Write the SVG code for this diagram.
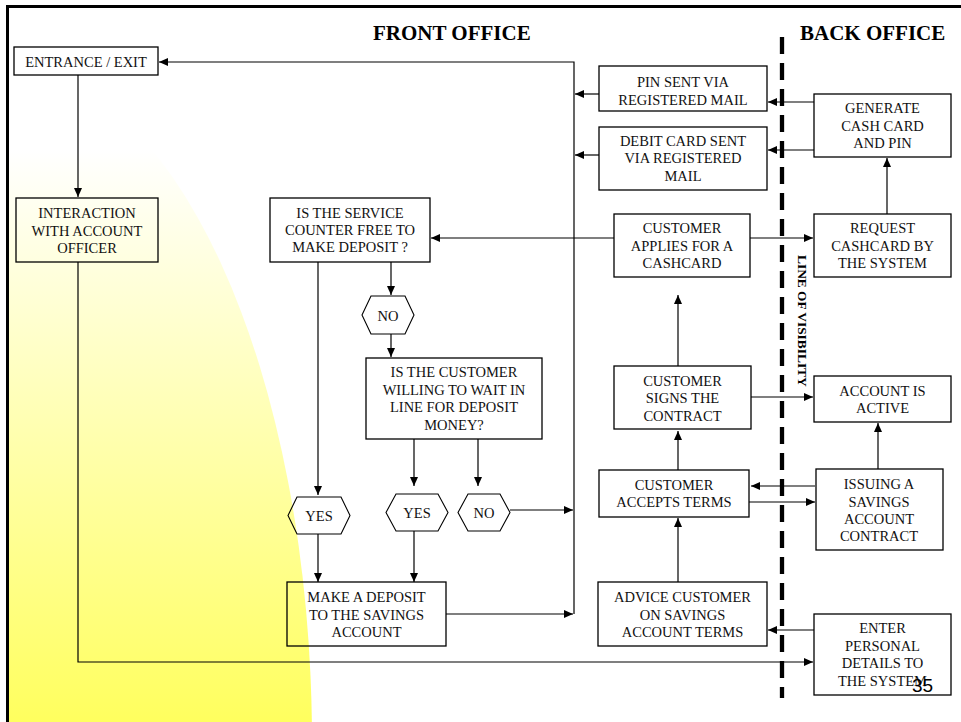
<svg xmlns="http://www.w3.org/2000/svg" width="961" height="722" viewBox="0 0 961 722">
<defs>
<linearGradient id="yg" gradientUnits="userSpaceOnUse" x1="0" y1="150" x2="0" y2="722">
<stop offset="0" stop-color="#FFFFFF"/>
<stop offset="1" stop-color="#FFFF5E"/>
</linearGradient>
<clipPath id="cl"><rect x="8" y="8" width="953" height="714"/></clipPath>
<marker id="ah" markerUnits="userSpaceOnUse" markerWidth="10" markerHeight="10" viewBox="0 0 10 10" refX="9" refY="5" orient="auto">
<path d="M0,1 L9,5 L0,9 Z" fill="#000"/>
</marker>
<style>
.box{fill:none;stroke:#000;stroke-width:1.3}
.hex{fill:none;stroke:#000;stroke-width:1.1}
.t{font-family:"Liberation Serif","Times New Roman",serif;font-size:14.5px;fill:#111;text-anchor:middle}
.h{font-family:"Liberation Serif","Times New Roman",serif;font-size:21px;font-weight:bold;fill:#000}
.c{fill:none;stroke:#000;stroke-width:1.2;marker-end:url(#ah)}
</style>
</defs>
<rect x="0" y="0" width="961" height="722" fill="#fff"/>
<ellipse cx="0" cy="742" rx="312" ry="678" fill="url(#yg)" clip-path="url(#cl)"/>
<path d="M7.5,722 V6.5 H961" fill="none" stroke="#000" stroke-width="3"/>

<text class="h" x="373" y="40">FRONT OFFICE</text>
<text class="h" x="800" y="40">BACK OFFICE</text>

<g id="visibility-line">
<line x1="782" y1="37" x2="782" y2="698" stroke="#000" stroke-width="4.3" stroke-dasharray="17,9"/>
<text transform="translate(798,255) rotate(90)" font-family="Liberation Serif,serif" font-size="13.4" font-weight="bold" fill="#000">LINE OF VISIBILITY</text>
</g>

<g id="connectors">
<path class="c" d="M574,614 V62 H159"/>
<path class="c" d="M599,94 H575"/>
<path class="c" d="M599,155 H575"/>
<path class="c" d="M814,102 H768"/>
<path class="c" d="M814,150 H768"/>
<path class="c" d="M887,214 V158"/>
<path class="c" d="M750,238 H813"/>
<path class="c" d="M614,238 H431"/>
<path class="c" d="M78,75 V197"/>
<path class="c" d="M78,262 V662 H813"/>
<path class="c" d="M318,262 V495"/>
<path class="c" d="M391,262 V295"/>
<path class="c" d="M391,334 V357"/>
<path class="c" d="M414,439 V486"/>
<path class="c" d="M478,439 V486"/>
<path class="c" d="M510,510 H573"/>
<path class="c" d="M318,534 V582"/>
<path class="c" d="M414,531 V582"/>
<path class="c" d="M446,614 H573"/>
<path class="c" d="M678,366 V295"/>
<path class="c" d="M751,397 H813"/>
<path class="c" d="M678,470 V431"/>
<path class="c" d="M815,486 H751"/>
<path class="c" d="M749,502 H815"/>
<path class="c" d="M878,469 V423"/>
<path class="c" d="M678,582 V518"/>
<path class="c" d="M814,630 H768"/>
</g>

<g id="entrance-exit">
<rect class="box" x="14" y="47" width="144" height="28"/>
<text class="t" x="86" y="66.5">ENTRANCE / EXIT</text>
</g>
<g id="interaction">
<rect class="box" x="16" y="198" width="142" height="64"/>
<text class="t" x="87" y="218">INTERACTION</text>
<text class="t" x="87" y="235.5">WITH ACCOUNT</text>
<text class="t" x="87" y="253">OFFICER</text>
</g>
<g id="service-counter">
<rect class="box" x="270" y="198" width="160" height="64"/>
<text class="t" x="350" y="217.7">IS THE SERVICE</text>
<text class="t" x="350" y="235">COUNTER FREE TO</text>
<text class="t" x="350" y="252.3">MAKE DEPOSIT ?</text>
</g>
<g id="pin-sent">
<rect class="box" x="599" y="66" width="168" height="45"/>
<text class="t" x="683" y="87">PIN SENT VIA</text>
<text class="t" x="683" y="104.5">REGISTERED MAIL</text>
</g>
<g id="debit-card-sent">
<rect class="box" x="599" y="127" width="168" height="63"/>
<text class="t" x="683" y="146">DEBIT CARD SENT</text>
<text class="t" x="683" y="163.3">VIA REGISTERED</text>
<text class="t" x="683" y="180.5">MAIL</text>
</g>
<g id="generate-card">
<rect class="box" x="814" y="94" width="137" height="63"/>
<text class="t" x="882.5" y="113.3">GENERATE</text>
<text class="t" x="882.5" y="130.5">CASH CARD</text>
<text class="t" x="882.5" y="147.7">AND PIN</text>
</g>
<g id="applies-cashcard">
<rect class="box" x="614" y="214" width="136" height="63"/>
<text class="t" x="682" y="233.3">CUSTOMER</text>
<text class="t" x="682" y="250.7">APPLIES FOR A</text>
<text class="t" x="682" y="268.3">CASHCARD</text>
</g>
<g id="request-cashcard">
<rect class="box" x="814" y="214" width="137" height="63"/>
<text class="t" x="882.5" y="233.3">REQUEST</text>
<text class="t" x="882.5" y="250.7">CASHCARD BY</text>
<text class="t" x="882.5" y="268.3">THE SYSTEM</text>
</g>
<g id="no-1">
<polygon class="hex" points="362,315 371,296 405,296 414,315 405,334 371,334"/>
<text class="t" x="388" y="320.5">NO</text>
</g>
<g id="willing-to-wait">
<rect class="box" x="366" y="358" width="176" height="81"/>
<text class="t" x="454" y="377.3">IS THE CUSTOMER</text>
<text class="t" x="454" y="395">WILLING TO WAIT IN</text>
<text class="t" x="454" y="412.3">LINE FOR DEPOSIT</text>
<text class="t" x="454" y="430">MONEY?</text>
</g>
<g id="signs-contract">
<rect class="box" x="614" y="366" width="137" height="63"/>
<text class="t" x="682.5" y="386">CUSTOMER</text>
<text class="t" x="682.5" y="403.3">SIGNS THE</text>
<text class="t" x="682.5" y="420.7">CONTRACT</text>
</g>
<g id="account-active">
<rect class="box" x="814" y="376" width="137" height="46"/>
<text class="t" x="882.5" y="396">ACCOUNT IS</text>
<text class="t" x="882.5" y="412.7">ACTIVE</text>
</g>
<g id="accepts-terms">
<rect class="box" x="599" y="470" width="150" height="47"/>
<text class="t" x="674" y="490">CUSTOMER</text>
<text class="t" x="674" y="507.3">ACCEPTS TERMS</text>
</g>
<g id="issuing-contract">
<rect class="box" x="816" y="469" width="127" height="81"/>
<text class="t" x="879" y="489.3">ISSUING A</text>
<text class="t" x="879" y="506.7">SAVINGS</text>
<text class="t" x="879" y="524">ACCOUNT</text>
<text class="t" x="879" y="541.3">CONTRACT</text>
</g>
<g id="yes-1">
<polygon class="hex" points="288,515.5 297,497 341,497 350,515.5 341,534 297,534"/>
<text class="t" x="319" y="521">YES</text>
</g>
<g id="yes-2">
<polygon class="hex" points="386,512.5 396,494 438,494 448,512.5 438,531 396,531"/>
<text class="t" x="417" y="518.3">YES</text>
</g>
<g id="no-2">
<polygon class="hex" points="458,512.5 468,494 500,494 510,512.5 500,531 468,531"/>
<text class="t" x="484" y="518.3">NO</text>
</g>
<g id="make-deposit">
<rect class="box" x="287" y="582" width="159" height="64"/>
<text class="t" x="366.5" y="602.3">MAKE A DEPOSIT</text>
<text class="t" x="366.5" y="620">TO THE SAVINGS</text>
<text class="t" x="366.5" y="636.7">ACCOUNT</text>
</g>
<g id="advice-customer">
<rect class="box" x="598" y="582" width="169" height="64"/>
<text class="t" x="682.5" y="602.3">ADVICE CUSTOMER</text>
<text class="t" x="682.5" y="620">ON SAVINGS</text>
<text class="t" x="682.5" y="636.7">ACCOUNT TERMS</text>
</g>
<g id="enter-details">
<rect class="box" x="814" y="614" width="137" height="81"/>
<text class="t" x="882.5" y="633.3">ENTER</text>
<text class="t" x="882.5" y="650.7">PERSONAL</text>
<text class="t" x="882.5" y="668.3">DETAILS TO</text>
<text class="t" x="882.5" y="686">THE SYSTEM</text>
</g>
<text x="912" y="692" font-family="Liberation Sans,Arial,sans-serif" font-size="19" fill="#000">35</text>
</svg>
